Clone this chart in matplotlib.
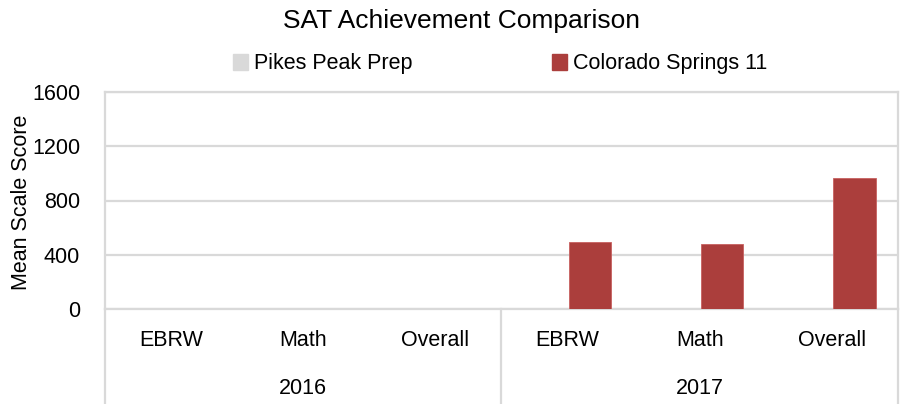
import matplotlib
matplotlib.use("Agg")
import matplotlib.pyplot as plt
from matplotlib.lines import Line2D
import numpy as np

plt.rcParams['font.family'] = ['Liberation Sans', 'DejaVu Sans']

years = ["2016", "2017"]
subjects = ["EBRW", "Math", "Overall"]
series_names = ["Pikes Peak Prep", "Colorado Springs 11"]
pikes_peak_prep = [0, 0, 0, 0, 0, 0]
colorado_springs_11 = [0, 0, 0, 492, 477, 966]
colors = ["#d9d9d9", "#ab3e3c"]
yticks = [0, 400, 800, 1200, 1600]

W, H = 901, 404
fig = plt.figure(figsize=(W / 100, H / 100), dpi=100)
left, right, top, bottom = 105, 898, 92.3, 308.7
ax = fig.add_axes([left / W, 1 - bottom / H, (right - left) / W, (bottom - top) / H])

n = len(years) * len(subjects)
x = np.arange(n)
bw = 0.32
off = 0.17
grid_c = "#d9d9d9"
ax.bar(x - off, pikes_peak_prep, width=bw, color=colors[0], zorder=3)
ax.bar(x + off, colorado_springs_11, width=bw, color=colors[1], zorder=3,
       edgecolor="#c86060", linewidth=0.6)

ax.set_xlim(-0.5, n - 0.5)
ax.set_ylim(0, 1600)
ax.set_yticks(yticks)
ax.set_yticklabels([str(v) for v in yticks], fontsize=15.5)
ax.tick_params(axis='y', length=0, pad=18)
ax.set_xticks([])
ax.grid(axis='y', color=grid_c, linewidth=1.6, zorder=0)
for s in ax.spines.values():
    s.set_color(grid_c)
    s.set_linewidth(1.6)
ax.set_ylabel("Mean Scale Score", fontsize=15.5, va='center')
ax.yaxis.set_label_coords((22 - left) / (right - left), (bottom - 202) / (bottom - top))

# multi-level category axis
trans = ax.get_xaxis_transform()
fig_bottom_ax = -(H - bottom) / (bottom - top)
for xv in [-0.5, 2.5, 5.5]:
    ax.add_line(Line2D([xv, xv], [0, fig_bottom_ax - 0.05], transform=trans,
                       color=grid_c, linewidth=1.6, clip_on=False))
sub_y = -(341 - bottom) / (bottom - top)
yr_y = -(388 - bottom) / (bottom - top)
for i in range(n):
    ax.text(x[i], sub_y, subjects[i % len(subjects)], transform=trans,
            ha='center', va='center', fontsize=15.5)
for j, yr in enumerate(years):
    ax.text(j * len(subjects) + 1, yr_y, yr, transform=trans,
            ha='center', va='center', fontsize=15.5)

fig.text(461.5 / W, 1 - 21 / H, "SAT Achievement Comparison", ha='center', va='center', fontsize=19)

handles = [plt.Rectangle((0, 0), 1, 1, color=c) for c in colors]
fig.legend(handles, series_names, loc='center', bbox_to_anchor=(500 / W, 1 - 64 / H),
           ncol=2, frameon=False, fontsize=15.5, handlelength=0.7, handleheight=0.7,
           handletextpad=0.25, columnspacing=6.5)

fig.savefig("out.png", dpi=100)
